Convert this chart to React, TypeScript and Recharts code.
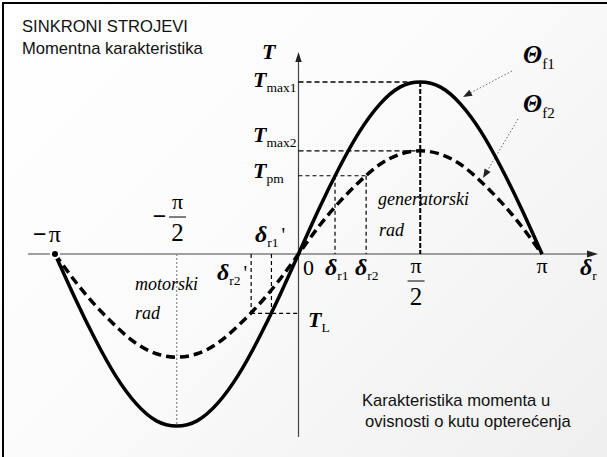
import React from 'react';
import { ComposedChart, Line, XAxis, YAxis, ReferenceLine, ReferenceDot } from 'recharts';

// Load angle δ (degrees) and torque per unit of T_max1 for two field excitations
const angleDeg = [-180, -165, -150, -135, -120, -105, -90, -75, -60, -45, -30, -15, 0, 15, 30, 45, 60, 75, 90, 105, 120, 135, 150, 165, 180];
const torqueF1 = [0, -0.26, -0.5, -0.71, -0.87, -0.97, -1, -0.97, -0.87, -0.71, -0.5, -0.26, 0, 0.26, 0.5, 0.71, 0.87, 0.97, 1, 0.97, 0.87, 0.71, 0.5, 0.26, 0];
const torqueF2 = [0, -0.16, -0.3, -0.42, -0.52, -0.58, -0.6, -0.58, -0.52, -0.42, -0.3, -0.16, 0, 0.16, 0.3, 0.42, 0.52, 0.58, 0.6, 0.58, 0.52, 0.42, 0.3, 0.16, 0];

// Characteristic torque levels and the matching operating angles
const T_MAX1 = 1;
const T_MAX2 = 0.6;
const T_PM = 0.455;
const T_LOAD = -0.345;
const DELTA_R1 = 27;
const DELTA_R2 = 50;
const DELTA_R1_M = -20;
const DELTA_R2_M = -35;

const data = angleDeg.map((deg, i) => ({ deg, f1: torqueF1[i], f2: torqueF2[i] }));

const W = 607;
const H = 457;
const SERIF = "'Liberation Serif', 'Times New Roman', serif";
const SANS = "'Liberation Sans', Arial, sans-serif";

type Pt = { x1: number; y1: number; x2: number; y2: number };

const arrowShape = (opts: { stroke: string; width: number; dash?: string; head: number; half: number; fill: string }) =>
  (p: any) => {
    const { x1, y1, x2, y2 } = p as Pt;
    const ang = Math.atan2(y2 - y1, x2 - x1);
    const c = Math.cos(ang);
    const s = Math.sin(ang);
    const bx = x2 - opts.head * c;
    const by = y2 - opts.head * s;
    const pts = `${x2},${y2} ${bx - opts.half * s},${by + opts.half * c} ${bx + opts.half * s},${by - opts.half * c}`;
    return (
      <g>
        <line x1={x1} y1={y1} x2={bx} y2={by} stroke={opts.stroke} strokeWidth={opts.width} strokeDasharray={opts.dash} />
        <polygon points={pts} fill={opts.fill} />
      </g>
    );
  };

type MathProps = {
  cx?: number;
  cy?: number;
  main: string;
  sub?: string;
  prime?: boolean;
  size?: number;
  subSize?: number;
  subDy?: number;
  italic?: boolean;
  bold?: boolean;
  anchor?: 'start' | 'middle' | 'end';
};

const MathLabel = ({ cx = 0, cy = 0, main, sub, prime, size = 21, subSize = 13.5, subDy = 5, italic = true, bold = true, anchor = 'start' }: MathProps) => (
  <text x={cx} y={cy} textAnchor={anchor} fontFamily={SERIF} fill="#000">
    <tspan fontSize={size} fontStyle={italic ? 'italic' : 'normal'} fontWeight={bold ? 'bold' : 'normal'}>{main}</tspan>
    {sub ? <tspan fontSize={subSize} dy={subDy}>{sub}</tspan> : null}
    {prime ? <tspan fontSize={20} dy={-subDy} dx={3}>'</tspan> : null}
  </text>
);

const Fraction = ({ cx = 0, cy = 0, negative = false }: { cx?: number; cy?: number; negative?: boolean }) => (
  <g fontFamily={SERIF} fill="#000">
    {negative ? (
      <text x={cx - 11} y={cy + 7} textAnchor="end" fontSize={24} fontWeight="bold">−</text>
    ) : null}
    <text x={cx} y={cy - 8} textAnchor="middle" fontSize={22}>π</text>
    <line x1={cx - 8.5} y1={cy} x2={cx + 8.5} y2={cy} stroke="#000" strokeWidth={1} />
    <text x={cx} y={cy + 24} textAnchor="middle" fontSize={25}>2</text>
  </g>
);

const dot = (el: (p: any) => React.ReactElement) => el;

export default function App() {
  return (
    <div style={{ position: 'fixed', left: 0, top: 0, width: W, height: H, overflow: 'hidden', background: 'linear-gradient(135deg, #ffffff 0%, #fbfbfb 45%, #efefef 100%)' }}>
      <div style={{ position: 'absolute', left: 2, top: 2, width: W + 40, height: H + 40, border: '2.5px solid #000', boxSizing: 'border-box' }} />
      <ComposedChart width={W} height={H} data={data} margin={{ top: 0, right: 0, bottom: 0, left: 0 }} style={{ position: 'absolute', left: 0, top: 0 }}>
        <XAxis dataKey="deg" type="number" domain={[-220.65, 228.05]} allowDataOverflow hide />
        <YAxis type="number" domain={[-1.1802, 1.4767]} allowDataOverflow hide />

        {/* axes with arrowheads */}
        <ReferenceLine segment={[{ x: -200, y: 0 }, { x: 221.4, y: 0 }]} shape={arrowShape({ stroke: '#444', width: 1.2, head: 11, half: 3.5, fill: '#222' })} />
        <ReferenceLine segment={[{ x: 0, y: -1.064 }, { x: 0, y: 1.174 }]} shape={arrowShape({ stroke: '#444', width: 1.2, head: 10, half: 3.2, fill: '#222' })} />

        {/* guide lines for the characteristic levels */}
        <ReferenceLine segment={[{ x: 0, y: T_MAX1 }, { x: 90, y: T_MAX1 }]} stroke="#000" strokeWidth={1.3} strokeDasharray="5 3" />
        <ReferenceLine segment={[{ x: 0, y: T_MAX2 }, { x: 90, y: T_MAX2 }]} stroke="#000" strokeWidth={1.3} strokeDasharray="5 3" />
        <ReferenceLine segment={[{ x: 90, y: T_MAX1 }, { x: 90, y: 0 }]} stroke="#000" strokeWidth={2} strokeDasharray="5 2" />
        <ReferenceLine segment={[{ x: 0, y: T_PM }, { x: DELTA_R2, y: T_PM }]} stroke="#000" strokeWidth={1.2} strokeDasharray="4 3" />
        <ReferenceLine segment={[{ x: DELTA_R1, y: T_PM }, { x: DELTA_R1, y: 0 }]} stroke="#000" strokeWidth={1.2} strokeDasharray="4 3" />
        <ReferenceLine segment={[{ x: DELTA_R2, y: T_PM }, { x: DELTA_R2, y: 0 }]} stroke="#000" strokeWidth={1.2} strokeDasharray="4 3" />
        <ReferenceLine segment={[{ x: DELTA_R2_M, y: T_LOAD }, { x: 0, y: T_LOAD }]} stroke="#000" strokeWidth={1.2} strokeDasharray="4 3" />
        <ReferenceLine segment={[{ x: DELTA_R1_M, y: 0 }, { x: DELTA_R1_M, y: T_LOAD }]} stroke="#000" strokeWidth={1.2} strokeDasharray="4 3" />
        <ReferenceLine segment={[{ x: DELTA_R2_M, y: 0 }, { x: DELTA_R2_M, y: T_LOAD }]} stroke="#000" strokeWidth={1.2} strokeDasharray="4 3" />
        <ReferenceLine segment={[{ x: -90, y: 0 }, { x: -90, y: -T_MAX1 }]} stroke="#888" strokeWidth={1.2} strokeDasharray="2 2" />

        {/* pointers to the curves */}
        <ReferenceLine segment={[{ x: 157.8, y: 1.064 }, { x: 121.6, y: 0.913 }]} shape={arrowShape({ stroke: '#666', width: 1, dash: '1.5 2', head: 9, half: 3.5, fill: '#222' })} />
        <ReferenceLine segment={[{ x: 162.3, y: 0.785 }, { x: 136.4, y: 0.442 }]} shape={arrowShape({ stroke: '#666', width: 1, dash: '1.5 2', head: 9, half: 3.5, fill: '#222' })} />

        <Line dataKey="f1" type="natural" stroke="#000" strokeWidth={3.5} dot={false} isAnimationActive={false} />
        <Line dataKey="f2" type="natural" stroke="#000" strokeWidth={3.5} strokeDasharray="9 5" dot={false} isAnimationActive={false} />

        {/* labels */}
        <ReferenceDot x={-27} y={1.134} r={0} shape={dot((p) => <MathLabel cx={p.cx} cy={p.cy} main="T" size={22} />)} />
        <ReferenceDot x={-33.6} y={0.971} r={0} shape={dot((p) => <MathLabel cx={p.cx} cy={p.cy} main="T" sub="max1" size={22} />)} />
        <ReferenceDot x={-33.6} y={0.651} r={0} shape={dot((p) => <MathLabel cx={p.cx} cy={p.cy} main="T" sub="max2" size={22} />)} />
        <ReferenceDot x={-33.6} y={0.442} r={0} shape={dot((p) => <MathLabel cx={p.cx} cy={p.cy} main="T" sub="pm" size={22} />)} />
        <ReferenceDot x={7} y={-0.424} r={0} shape={dot((p) => <MathLabel cx={p.cx} cy={p.cy} main="T" sub="L" size={22} />)} />
        <ReferenceDot x={166} y={1.11} r={0} shape={dot((p) => <MathLabel cx={p.cx} cy={p.cy} main="Θ" sub="f1" size={25} subSize={15} subDy={6} />)} />
        <ReferenceDot x={166} y={0.826} r={0} shape={dot((p) => <MathLabel cx={p.cx} cy={p.cy} main="Θ" sub="f2" size={25} subSize={15} subDy={6} />)} />

        <ReferenceDot x={58.8} y={0.285} r={0} shape={dot((p) => <MathLabel cx={p.cx} cy={p.cy} main="generatorski" size={18} bold={false} />)} />
        <ReferenceDot x={59.5} y={0.105} r={0} shape={dot((p) => <MathLabel cx={p.cx} cy={p.cy} main="rad" size={18} bold={false} />)} />
        <ReferenceDot x={-120.9} y={-0.209} r={0} shape={dot((p) => <MathLabel cx={p.cx} cy={p.cy} main="motorski" size={18} bold={false} />)} />
        <ReferenceDot x={-120.9} y={-0.378} r={0} shape={dot((p) => <MathLabel cx={p.cx} cy={p.cy} main="rad" size={18} bold={false} />)} />

        <ReferenceDot x={-196.3} y={0.07} r={0} shape={dot((p) => (
          <text x={p.cx} y={p.cy} fontFamily={SERIF} fill="#000">
            <tspan fontSize={24} fontWeight="bold">−</tspan>
            <tspan fontSize={24} dx={2}>π</tspan>
          </text>
        ))} />
        <ReferenceDot x={-89.4} y={0.215} r={0} shape={dot((p) => <Fraction cx={p.cx} cy={p.cy} negative />)} />
        <ReferenceDot x={86.9} y={-0.157} r={0} shape={dot((p) => <Fraction cx={p.cx} cy={p.cy} />)} />
        <ReferenceDot x={3.3} y={-0.122} r={0} shape={dot((p) => <MathLabel cx={p.cx} cy={p.cy} main="0" size={22} italic={false} bold={false} />)} />
        <ReferenceDot x={180} y={-0.11} r={0} shape={dot((p) => <MathLabel cx={p.cx} cy={p.cy} main="π" size={22} italic={false} bold={false} anchor="middle" />)} />

        <ReferenceDot x={19.6} y={-0.122} r={0} shape={dot((p) => <MathLabel cx={p.cx} cy={p.cy} main="δ" sub="r1" size={24} />)} />
        <ReferenceDot x={41.8} y={-0.122} r={0} shape={dot((p) => <MathLabel cx={p.cx} cy={p.cy} main="δ" sub="r2" size={24} />)} />
        <ReferenceDot x={208.1} y={-0.122} r={0} shape={dot((p) => <MathLabel cx={p.cx} cy={p.cy} main="δ" sub="r" size={24} />)} />
        <ReferenceDot x={-32.2} y={0.07} r={0} shape={dot((p) => <MathLabel cx={p.cx} cy={p.cy} main="δ" sub="r1" prime size={24} />)} />
        <ReferenceDot x={-60.2} y={-0.151} r={0} shape={dot((p) => <MathLabel cx={p.cx} cy={p.cy} main="δ" sub="r2" prime size={24} />)} />
      </ComposedChart>

      <svg width={W} height={H} style={{ position: 'absolute', left: 0, top: 0, pointerEvents: 'none' }}>
        <g fontFamily={SANS} fontSize={16.6} fill="#111">
          <text x={22} y={32}>SINKRONI STROJEVI</text>
          <text x={22} y={54}>Momentna karakteristika</text>
          <text x={362} y={406}>Karakteristika momenta u</text>
          <text x={365} y={427}>ovisnosti o kutu opterećenja</text>
        </g>
      </svg>
    </div>
  );
}
